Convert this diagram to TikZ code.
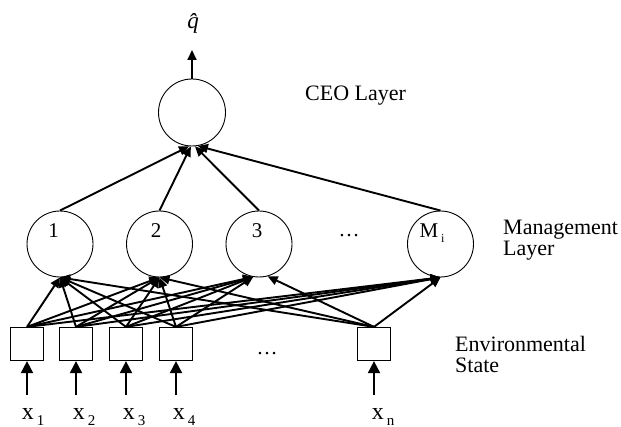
\documentclass[tikz,border=0pt]{standalone}
\usepackage{fontspec}
\setmainfont{Liberation Serif}
\usetikzlibrary{arrows.meta}
\begin{document}
\begin{tikzpicture}[x=1pt,y=-1pt,
  unit/.style={circle,draw,line width=0.9pt,minimum size=66pt,inner sep=0pt},
  ceo/.style={circle,draw,line width=0.9pt,minimum size=67pt,inner sep=0pt},
  inbox/.style={rectangle,draw,line width=0.8pt,minimum size=33.4pt,inner sep=0pt},
  conn/.style={line width=1.9pt,-{Triangle[length=10pt,width=9pt]}},
  feed/.style={line width=1.9pt,-{Triangle[length=12pt,width=12pt]}},
  txt/.style={font=\fontsize{22}{22}\selectfont,inner sep=0pt,anchor=base west},
  num/.style={font=\fontsize{21}{21}\selectfont,inner sep=0pt,anchor=base},
  xlab/.style={font=\fontsize{24}{24}\selectfont,inner sep=0pt,anchor=base west}]
\useasboundingbox (0,0) rectangle (621,427);

% CEO unit and its output
\node[ceo] (ceo) at (192,112.5) {};
\coordinate (qtip) at (192,50);
\draw[conn] (ceo.north) -- (qtip);
\node[font=\fontsize{23}{23}\selectfont\itshape,inner sep=0pt,anchor=base] (qhat) at (193,29) {q^^^^0302};
\node[txt] (ceolab) at (305,101) {CEO Layer};

% management units
\node[unit] (m1) at (60,244) {};
\node[unit] (m2) at (159.5,244) {};
\node[unit] (m3) at (259,244) {};
\node[unit] (mi) at (440.5,244) {};
\node[num] (t1) at (53.5,238) {1};
\node[num] (t2) at (156,238) {2};
\node[num] (t3) at (257,238) {3};
\node[num] (ti) at (432,238) {M\kern3pt\raisebox{-5pt}{\fontsize{12}{12}\selectfont i}};
\node[num] (mdots) at (349,237) {\ldots};
\node[txt] (mg1) at (503,235) {Management};
\node[txt] (mg2) at (503,256) {Layer};

% environmental state inputs
\node[inbox] (b1) at (27,344) {};
\node[inbox] (b2) at (76,344) {};
\node[inbox] (b3) at (126,344) {};
\node[inbox] (b4) at (176,344) {};
\node[inbox] (bn) at (374,344) {};
\node[num] (bdots) at (267,355) {\ldots};
\node[txt] (en1) at (455,351.5) {Environmental};
\node[txt] (en2) at (455,373) {State};

% input signals
\foreach \b/\s/\lx in {b1/1/21.7,b2/2/72.7,b3/3/122.7,b4/4/172.7,bn/n/371.7}{
  \coordinate (\b in) at ([yshift=-34.3pt]\b.south);
  \draw[feed] (\b in) -- (\b.south);
  \node[xlab] (x\s) at (\lx,419) {x\kern3pt\raisebox{-6pt}{\fontsize{15}{15}\selectfont \s}};
}

% full connections from inputs to managers
\foreach \b in {b1,b2,b3,b4,bn}{
  \draw[conn] (\b.north) -- (m1.south);
  \draw[conn] (\b.north) -- (m2.south);
  \draw[conn] (\b.north) -- (mi.south);
}
\foreach \b in {b1,b2,b3,b4}{
  \draw[conn] (\b.north) -- (m3.-100);
}
\draw[conn] (bn.north) -- (m3.-75);

% managers to CEO
\draw[conn] (m1.north) -- (ceo.-95);
\draw[conn] (m2.north) -- (ceo.-92);
\draw[conn] (m3.north) -- (ceo.-85);
\draw[conn] (mi.north) -- (ceo.-80);
\end{tikzpicture}
\end{document}
